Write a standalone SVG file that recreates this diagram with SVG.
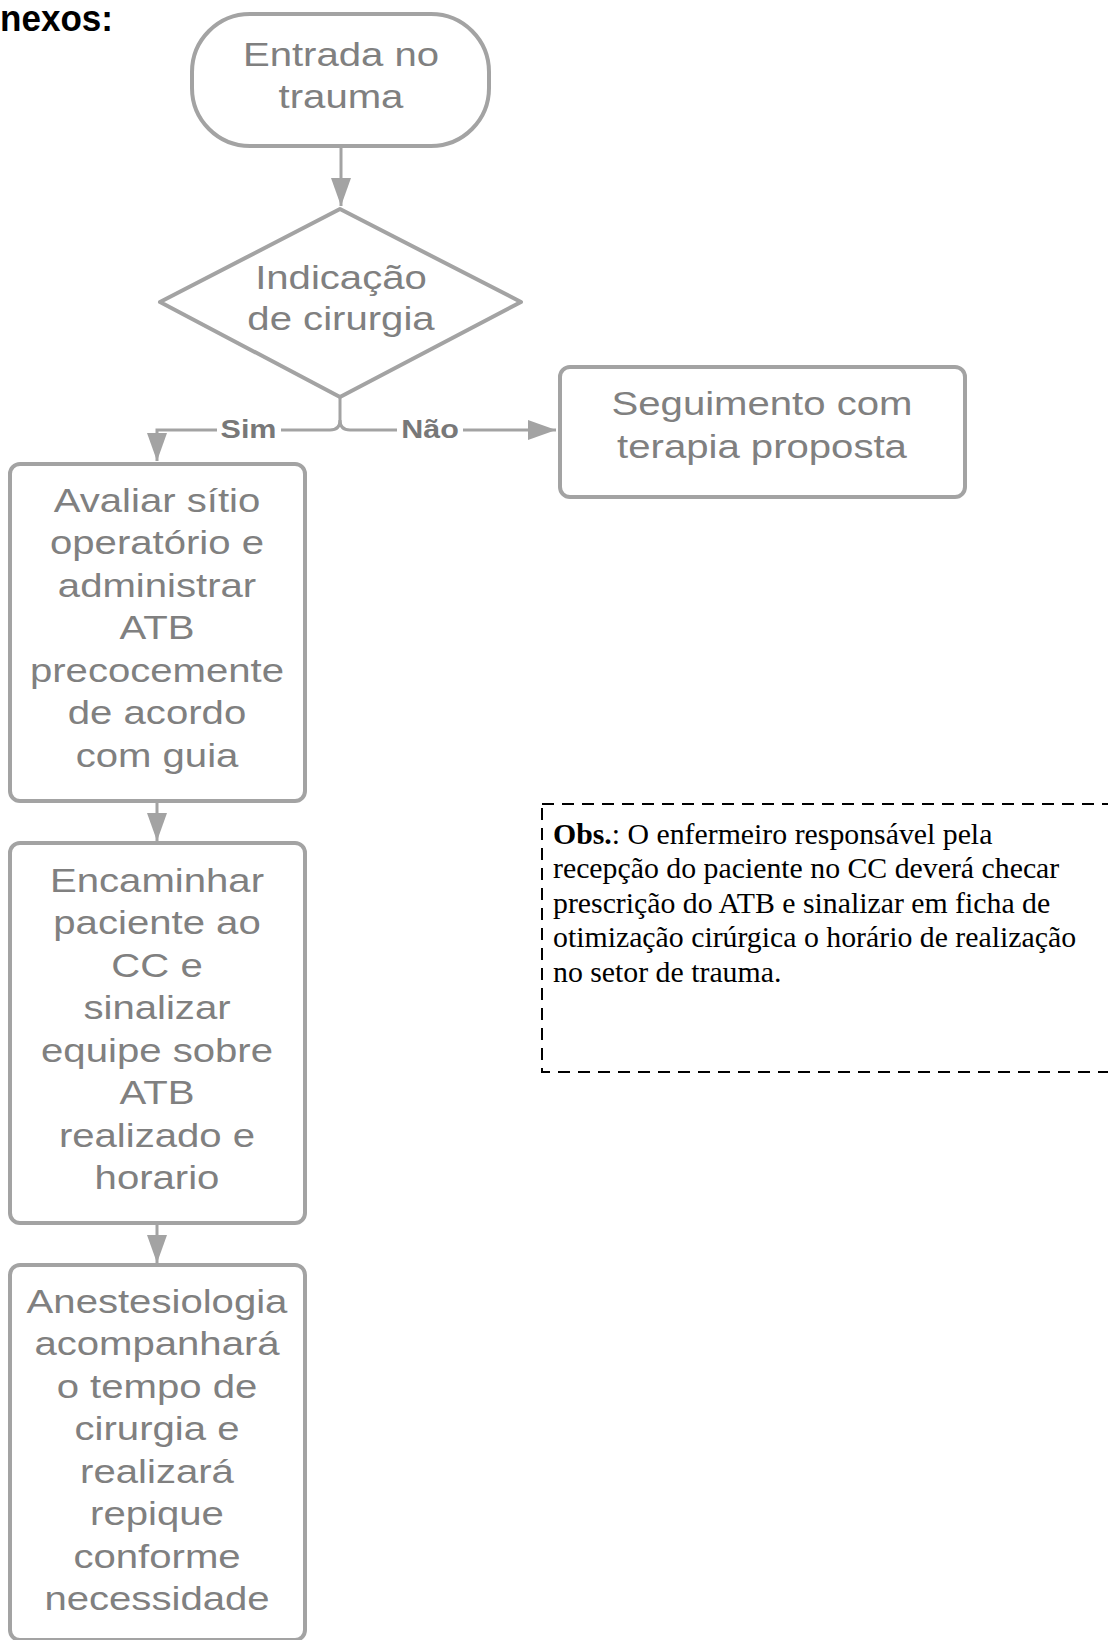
<svg xmlns="http://www.w3.org/2000/svg" width="1108" height="1640" viewBox="0 0 1108 1640">
<style>
.shape{fill:#fff;stroke:#a3a3a3;stroke-width:4}
.t{font-family:"Liberation Sans",Arial,sans-serif;font-size:34px;fill:#808080;text-anchor:middle}
.lbl{font-family:"Liberation Sans",Arial,sans-serif;font-size:25px;font-weight:bold;fill:#787878;text-anchor:middle}
.conn{fill:none;stroke:#a3a3a3;stroke-width:3}
.obs{font-family:"Liberation Serif","Times New Roman",serif;font-size:29.8px;fill:#000}
</style>
<defs>
<marker id="ah" viewBox="0 0 28 20" refX="28" refY="10" markerWidth="28" markerHeight="20" markerUnits="userSpaceOnUse" orient="auto">
<path d="M0,0 L28,10 L0,20 z" fill="#a3a3a3"/>
</marker>
</defs>
<rect width="1108" height="1640" fill="#fff"/>
<text x="0" y="31" font-family="Liberation Sans,Arial,sans-serif" font-size="36" font-weight="bold" fill="#000" textLength="113" lengthAdjust="spacingAndGlyphs">nexos:</text>

<g id="connectors">
<path class="conn" d="M341,146 V206" marker-end="url(#ah)"/>
<path class="conn" d="M340,397 V420 Q340,430 330,430 H157 V461" marker-end="url(#ah)"/>
<path class="conn" d="M340,420 Q340,430 350,430 H556" marker-end="url(#ah)"/>
<path class="conn" d="M157,802 V841" marker-end="url(#ah)"/>
<path class="conn" d="M157,1224 V1263" marker-end="url(#ah)"/>
<rect x="217" y="414" width="64" height="30" fill="#fff"/>
<rect x="397" y="414" width="66" height="30" fill="#fff"/>
<text class="lbl" transform="translate(248.5,0) scale(1.22,1)" x="0" y="438">Sim</text>
<text class="lbl" transform="translate(430,0) scale(1.22,1)" x="0" y="438">Não</text>
</g>

<g id="start">
<rect class="shape" x="192" y="14" width="297" height="132" rx="58" ry="58"/>
<text class="t" transform="translate(341,0) scale(1.18,1)"><tspan x="0" y="66">Entrada no</tspan><tspan x="0" y="108">trauma</tspan></text>
</g>

<g id="decision">
<path class="shape" stroke-linejoin="round" d="M340,209 L521,302 L340,397 L160,302 Z"/>
<text class="t" transform="translate(341,0) scale(1.18,1)"><tspan x="0" y="289">Indicação</tspan><tspan x="0" y="330">de cirurgia</tspan></text>
</g>

<g id="seguimento">
<rect class="shape" x="560" y="367" width="405" height="130" rx="10" ry="10"/>
<text class="t" transform="translate(762,0) scale(1.18,1)"><tspan x="0" y="415">Seguimento com</tspan><tspan x="0" y="458">terapia proposta</tspan></text>
</g>

<g id="avaliar">
<rect class="shape" x="10" y="464" width="295" height="337" rx="10" ry="10"/>
<text class="t" transform="translate(157,0) scale(1.18,1)"><tspan x="0" y="512">Avaliar sítio</tspan><tspan x="0" y="554.5">operatório e</tspan><tspan x="0" y="597">administrar</tspan><tspan x="0" y="639.5">ATB</tspan><tspan x="0" y="682">precocemente</tspan><tspan x="0" y="724.5">de acordo</tspan><tspan x="0" y="767">com guia</tspan></text>
</g>

<g id="encaminhar">
<rect class="shape" x="10" y="843" width="295" height="380" rx="10" ry="10"/>
<text class="t" transform="translate(157,0) scale(1.18,1)"><tspan x="0" y="892">Encaminhar</tspan><tspan x="0" y="934.5">paciente ao</tspan><tspan x="0" y="977">CC e</tspan><tspan x="0" y="1019.5">sinalizar</tspan><tspan x="0" y="1062">equipe sobre</tspan><tspan x="0" y="1104.5">ATB</tspan><tspan x="0" y="1147">realizado e</tspan><tspan x="0" y="1189.5">horario</tspan></text>
</g>

<g id="anestesiologia">
<rect class="shape" x="10" y="1265" width="295" height="375" rx="10" ry="10"/>
<text class="t" transform="translate(157,0) scale(1.18,1)"><tspan x="0" y="1313">Anestesiologia</tspan><tspan x="0" y="1355.5">acompanhará</tspan><tspan x="0" y="1398">o tempo de</tspan><tspan x="0" y="1440.5">cirurgia e</tspan><tspan x="0" y="1483">realizará</tspan><tspan x="0" y="1525.5">repique</tspan><tspan x="0" y="1568">conforme</tspan><tspan x="0" y="1610.5">necessidade</tspan></text>
</g>

<g id="obs">
<rect x="542" y="804" width="600" height="268" fill="none" stroke="#000" stroke-width="2" stroke-dasharray="12 8"/>
<text class="obs"><tspan x="553" y="844"><tspan font-weight="bold">Obs.</tspan>: O enfermeiro responsável pela</tspan><tspan x="553" y="878.4">recepção do paciente no CC deverá checar</tspan><tspan x="553" y="912.8">prescrição do ATB e sinalizar em ficha de</tspan><tspan x="553" y="947.2">otimização cirúrgica o horário de realização</tspan><tspan x="553" y="981.6">no setor de trauma.</tspan></text>
</g>
</svg>
